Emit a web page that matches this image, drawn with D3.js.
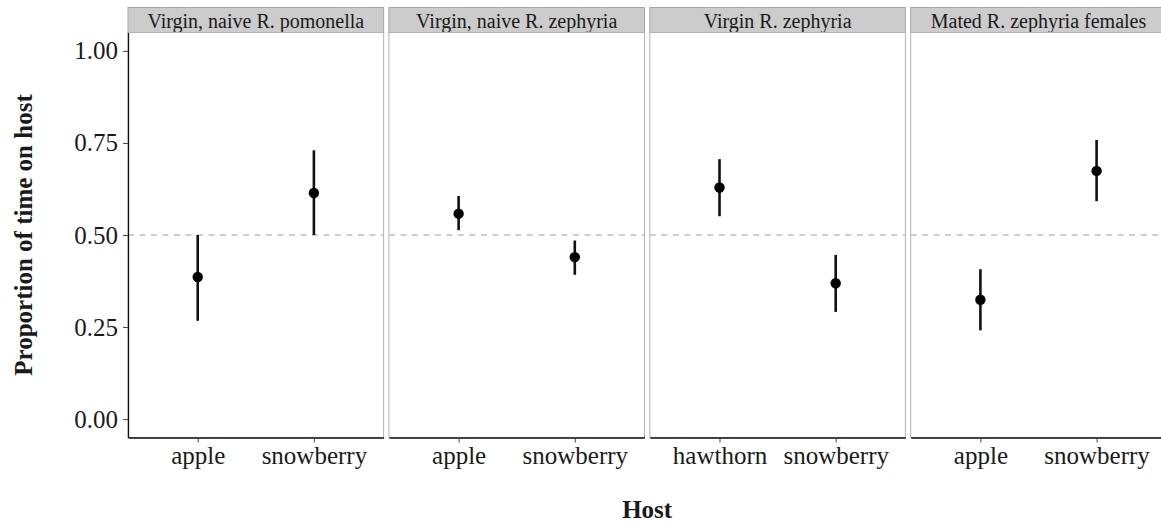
<!DOCTYPE html>
<html>
<head>
<meta charset="utf-8">
<script src="https://cdn.jsdelivr.net/npm/d3@7"></script>
<style>
  body { margin: 0; background: #fff; }
  svg { display: block; }
  text { font-family: "Liberation Serif", "Times New Roman", serif; fill: #1a1a1a; }
</style>
</head>
<body>
<svg id="chart" width="1161" height="527"></svg>
<script>
// facet labels and hosts per facet
var panels = ['Virgin, naive R. pomonella', 'Virgin, naive R. zephyria', 'Virgin R. zephyria', 'Mated R. zephyria females'];
var hosts = [['apple', 'snowberry'], ['apple', 'snowberry'], ['hawthorn', 'snowberry'], ['apple', 'snowberry']];
// proportion of time on host, mean and interval ends
var means = [[0.386, 0.614], [0.558, 0.440], [0.629, 0.369], [0.324, 0.674]];
var lower = [[0.267, 0.500], [0.513, 0.392], [0.551, 0.291], [0.241, 0.592]];
var upper = [[0.500, 0.730], [0.606, 0.485], [0.706, 0.446], [0.407, 0.758]];
var yTicks = [0, 0.25, 0.5, 0.75, 1];
var refLine = 0.5;

var svg = d3.select('#chart');

var left = 128;
var panelW = 255.6;
var gap = 5.3;
var stripTop = 7.5;
var plotTop = 32.5;
var plotBottom = 437.5;

var y = d3.scaleLinear()
    .domain([-0.05, 1.05])
    .range([plotBottom, plotTop]);

panels.forEach(function (name, i) {
    var x0 = left + i * (panelW + gap);
    var $g = svg.append('g').attr('transform', 'translate(' + x0 + ',0)');

    var x = d3.scalePoint()
        .domain(hosts[i])
        .range([0, panelW])
        .padding(0.6);

    // strip
    $g.append('rect')
        .attr('x', 0).attr('y', stripTop)
        .attr('width', panelW).attr('height', plotTop - stripTop)
        .attr('fill', '#cccccc')
        .attr('stroke', '#a6a6a6')
        .attr('stroke-width', 1);

    $g.append('text')
        .attr('x', panelW / 2)
        .attr('y', 28)
        .attr('text-anchor', 'middle')
        .style('font-size', '20px')
        .text(name);

    // panel border
    $g.append('rect')
        .attr('x', 0).attr('y', plotTop)
        .attr('width', panelW).attr('height', plotBottom - plotTop)
        .attr('fill', '#fff')
        .attr('stroke', '#b3b3b3')
        .attr('stroke-width', 1);

    // reference line
    $g.append('line')
        .attr('x1', 0).attr('x2', panelW)
        .attr('y1', y(refLine)).attr('y2', y(refLine))
        .attr('stroke', '#bfbfbf')
        .attr('stroke-width', 1.6)
        .attr('stroke-dasharray', '6,5.5');

    var rows = hosts[i].map(function (h, j) {
        return { host: h, mean: means[i][j], lo: lower[i][j], hi: upper[i][j] };
    });

    $g.selectAll('line.err')
        .data(rows)
        .enter().append('line')
        .classed('err', true)
        .attr('x1', function (d) { return x(d.host); })
        .attr('x2', function (d) { return x(d.host); })
        .attr('y1', function (d) { return y(d.lo); })
        .attr('y2', function (d) { return y(d.hi); })
        .attr('stroke', '#111')
        .attr('stroke-width', 2.6);

    $g.selectAll('circle.pt')
        .data(rows)
        .enter().append('circle')
        .classed('pt', true)
        .attr('cx', function (d) { return x(d.host); })
        .attr('cy', function (d) { return y(d.mean); })
        .attr('r', 5.2)
        .attr('fill', '#000');

    // x axis
    var $xAxis = $g.append('g')
        .attr('transform', 'translate(0,' + plotBottom + ')')
        .call(d3.axisBottom(x).tickSize(5).tickSizeOuter(0).tickPadding(4));
    $xAxis.select('.domain').attr('stroke', '#111').attr('stroke-width', 1.3);
    $xAxis.selectAll('.tick line').attr('stroke', '#444');
    $xAxis.selectAll('text')
        .style('font-size', '25px')
        .style('font-family', '"Liberation Serif", serif')
        .attr('fill', '#1a1a1a');

    if (i === 0) {
        var $yAxis = $g.append('g')
            .call(d3.axisLeft(y).tickValues(yTicks).tickFormat(d3.format('.2f'))
                .tickSize(5).tickSizeOuter(0).tickPadding(5));
        $yAxis.select('.domain').attr('stroke', '#111').attr('stroke-width', 1.3);
        $yAxis.selectAll('.tick line').attr('stroke', '#444');
        $yAxis.selectAll('text')
            .style('font-size', '25px')
            .style('font-family', '"Liberation Serif", serif')
            .attr('fill', '#1a1a1a');
    }
});

// axis titles
svg.append('text')
    .attr('x', left + (4 * panelW + 3 * gap) / 2)
    .attr('y', 518)
    .attr('text-anchor', 'middle')
    .style('font-size', '25px')
    .style('font-weight', 'bold')
    .text('Host');

svg.append('text')
    .attr('transform', 'translate(32,' + ((plotTop + plotBottom) / 2) + ') rotate(-90)')
    .attr('text-anchor', 'middle')
    .style('font-size', '25px')
    .style('font-weight', 'bold')
    .text('Proportion of time on host');
</script>
</body>
</html>
